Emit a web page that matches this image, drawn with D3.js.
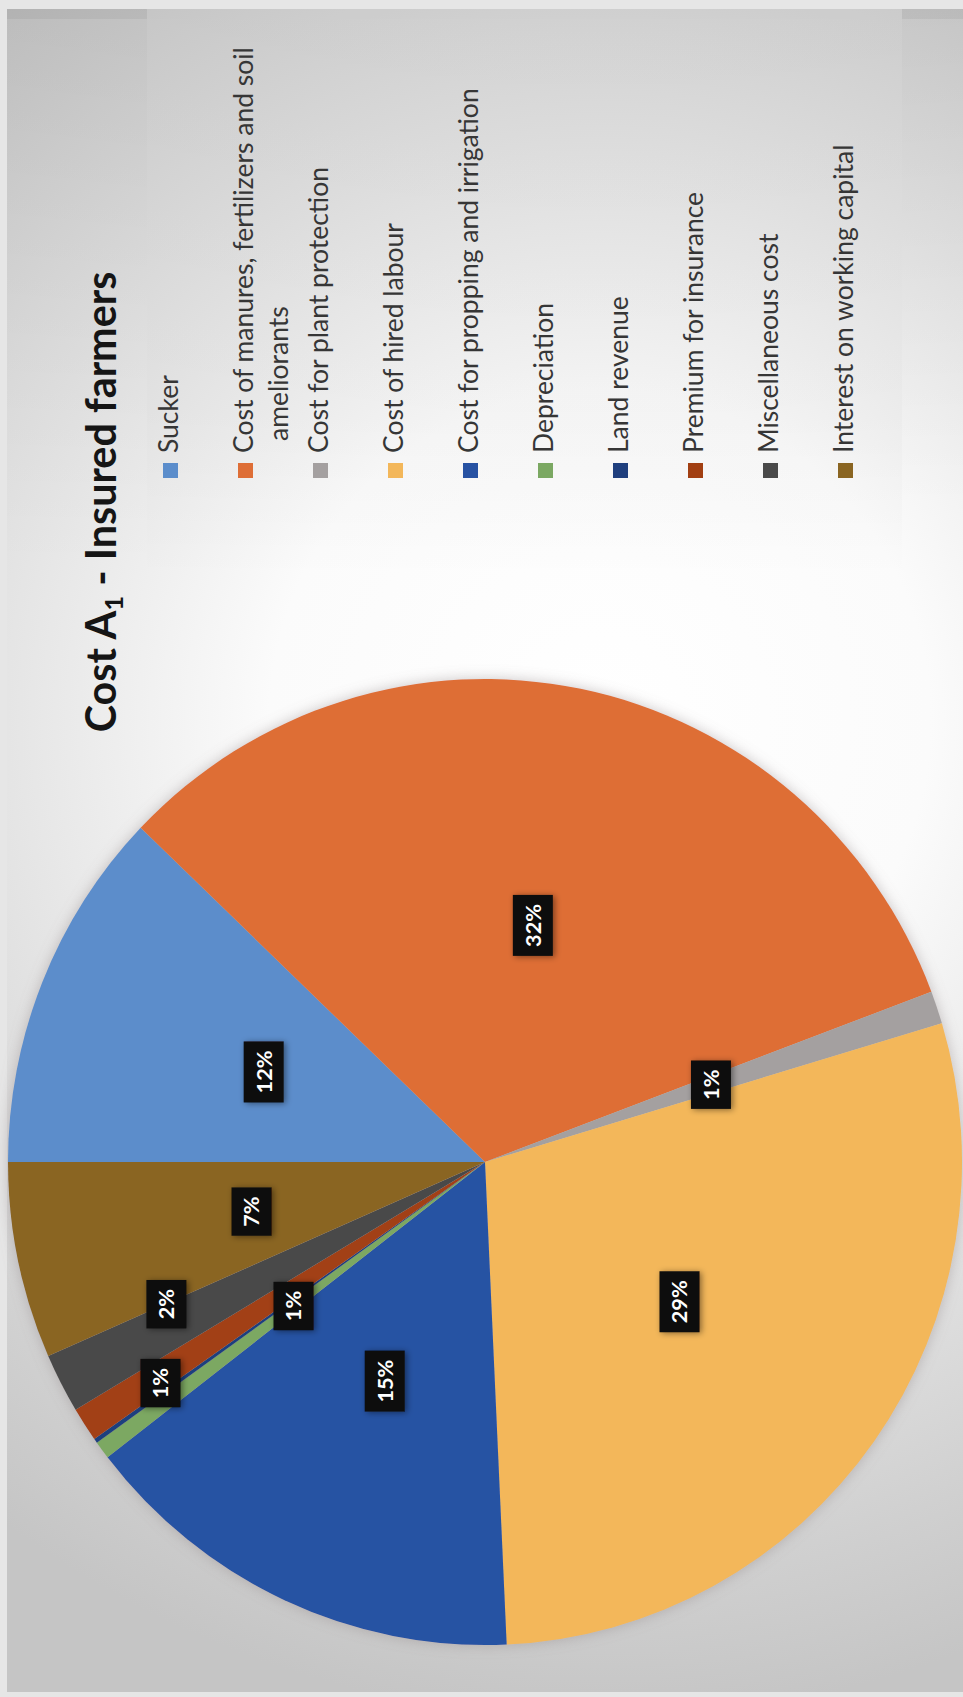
<!DOCTYPE html>
<html><head><meta charset="utf-8">
<script src="https://cdn.jsdelivr.net/npm/d3@7"></script>
<style>html,body{margin:0;padding:0;background:#d0d0d0;} svg{display:block}</style>
</head><body>
<svg id="chart" width="963" height="1697"></svg>
<script>
// ---- data ----
const categories = ["Sucker", "Cost of manures, fertilizers and soil ameliorants", "Cost for plant protection", "Cost of hired labour", "Cost for propping and irrigation", "Depreciation", "Land revenue", "Premium for insurance", "Miscellaneous cost", "Interest on working capital"];
const shares = [12.2, 32.2, 1.1, 29.0, 15.3, 0.6, 0.15, 1.15, 2.0, 6.6];
const colors = ["#5b8dcb", "#de6e36", "#a4a0a0", "#f3b75a", "#2752a3", "#7ba862", "#1f3f7e", "#a23f12", "#4a4a4a", "#8a6522"];
const legendWrapAt = [null, "Cost of manures, fertilizers and soil", null, null, null, null, null, null, null, null];
const titleParts = ["Cost A", "1", " - Insured farmers"];
// label placement (layout, fraction of radius / angular nudge in degrees)
const labelRadius = [0.5, 0.5, 0.5, 0.5, 0.5, 0.5, 0.5, 0.82, 0.73, 0.5];
const labelNudge = [0, 0, 0, 0, 0, 0, 0, -1, 3.5, 0];

const W = 963, H = 1697;
const svg = d3.select("#chart");
const defs = svg.append("defs");

// background
const rg = defs.append("radialGradient").attr("id", "bg").attr("gradientUnits", "userSpaceOnUse")
  .attr("cx", 600).attr("cy", 720).attr("r", 1000);
[[0, "#ffffff"], [0.33, "#fbfbfb"], [0.58, "#e6e6e6"], [0.85, "#d0d0d0"], [1, "#c5c5c5"]]
  .forEach(([o, c]) => rg.append("stop").attr("offset", o).attr("stop-color", c));
const lg = defs.append("linearGradient").attr("id", "shadeDown").attr("x1", 0).attr("y1", 0).attr("x2", 0).attr("y2", 1);
lg.append("stop").attr("offset", 0).attr("stop-color", "#000").attr("stop-opacity", 0.07);
lg.append("stop").attr("offset", 1).attr("stop-color", "#000").attr("stop-opacity", 0);
const lg3 = defs.append("linearGradient").attr("id", "legShade").attr("x1", 0).attr("y1", 0).attr("x2", 0).attr("y2", 1);
lg3.append("stop").attr("offset", 0).attr("stop-color", "#000").attr("stop-opacity", 0.05);
lg3.append("stop").attr("offset", 0.7).attr("stop-color", "#000").attr("stop-opacity", 0.03);
lg3.append("stop").attr("offset", 1).attr("stop-color", "#000").attr("stop-opacity", 0);

svg.append("rect").attr("width", W).attr("height", H).attr("fill", "#e6e6e6");
svg.append("rect").attr("x", 7).attr("y", 9).attr("width", W - 7).attr("height", H - 14).attr("fill", "url(#bg)");
svg.append("rect").attr("x", 7).attr("y", 9).attr("width", 140).attr("height", 560).attr("fill", "url(#shadeDown)");
svg.append("rect").attr("x", 902).attr("y", 9).attr("width", 61).attr("height", 500).attr("fill", "url(#shadeDown)");
svg.append("rect").attr("x", 147).attr("y", 19).attr("width", 755).attr("height", 560).attr("fill", "url(#legShade)");
svg.append("rect").attr("x", 7).attr("y", 9).attr("width", W - 7).attr("height", 10).attr("fill", "#000").attr("opacity", 0.05);

// filters
const f1 = defs.append("filter").attr("id", "pieShadow").attr("x", "-10%").attr("y", "-10%").attr("width", "120%").attr("height", "120%");
f1.append("feGaussianBlur").attr("in", "SourceAlpha").attr("stdDeviation", 7).attr("result", "b");
f1.append("feFlood").attr("flood-color", "#8a7f80").attr("flood-opacity", 0.45);
f1.append("feComposite").attr("in2", "b").attr("operator", "in").attr("result", "s");
const m1 = f1.append("feMerge"); m1.append("feMergeNode").attr("in", "s"); m1.append("feMergeNode").attr("in", "SourceGraphic");
const f2 = defs.append("filter").attr("id", "boxShadow").attr("x", "-30%").attr("y", "-30%").attr("width", "160%").attr("height", "160%");
f2.append("feGaussianBlur").attr("in", "SourceAlpha").attr("stdDeviation", 3).attr("result", "b");
f2.append("feOffset").attr("in", "b").attr("dx", 2).attr("dy", 1).attr("result", "o");
f2.append("feFlood").attr("flood-color", "#000").attr("flood-opacity", 0.45);
f2.append("feComposite").attr("in2", "o").attr("operator", "in").attr("result", "s");
const m2 = f2.append("feMerge"); m2.append("feMergeNode").attr("in", "s"); m2.append("feMergeNode").attr("in", "SourceGraphic");

const FONT = "Lato, 'Open Sans', sans-serif";

function measure(txt, size, weight) {
  const t = svg.append("text").attr("font-family", FONT).attr("font-size", size).attr("font-weight", weight).text(txt);
  const l = t.node().getComputedTextLength(); t.remove(); return l;
}

// ---- title ----
const titleLen = measure(titleParts.join(""), 40, "bold");
const titleSize = 40 * 470 / titleLen;
const title = svg.append("text")
  .attr("transform", "translate(116,502) rotate(-90)")
  .attr("text-anchor", "middle").attr("font-family", FONT).attr("font-weight", "bold")
  .attr("font-size", titleSize).attr("fill", "#151515");
title.append("tspan").text(titleParts[0]);
title.append("tspan").attr("font-size", titleSize * 0.62).attr("dy", titleSize * 0.18).text(titleParts[1]);
title.append("tspan").attr("dy", -titleSize * 0.18).text(titleParts[2]);

// ---- legend ----
const legLen = measure(legendWrapAt[1], 28, "normal");
const legSize = 28 * 406 / legLen;
const legend = svg.append("g");
const legX = d3.scalePoint().domain(categories).range([178, 178 + 75 * (categories.length - 1)]);
categories.forEach((c, i) => {
  const bx = legX(c);
  legend.append("rect").attr("x", bx - 15).attr("y", 463).attr("width", 15).attr("height", 15).attr("fill", colors[i]);
  const lines = legendWrapAt[i] ? [legendWrapAt[i], c.slice(legendWrapAt[i].length).trim()] : [c];
  const t = legend.append("text").attr("transform", `translate(${bx},453) rotate(-90)`)
    .attr("font-family", FONT).attr("font-size", legSize).attr("fill", "#363636");
  lines.forEach((ln, k) => t.append("tspan").attr("x", k ? 12 : 0).attr("dy", k ? 35 : 0).text(ln));
});

// ---- pie ----
const cx = 485, cy = 1162, R = 480, rx = 477, ry = 483;
const sx = rx / R, sy = ry / R;
const total = d3.sum(shares);
const pie = d3.pie().sort(null).value(d => d).startAngle(-Math.PI / 2).endAngle(3 * Math.PI / 2);
const arcs = pie(shares);
const arc = d3.arc().innerRadius(0).outerRadius(R);
const pg = svg.append("g").attr("transform", `translate(${cx},${cy}) scale(${sx},${sy})`).attr("filter", "url(#pieShadow)");
pg.selectAll("path").data(arcs).join("path").attr("d", arc).attr("fill", (d, i) => colors[i]);

// ---- data labels ----
const lblSize = 22 * 43 / measure("12%", 22, "bold");
const lg2 = svg.append("g");
arcs.forEach((a, i) => {
  const pct = Math.round(a.value / total * 100);
  if (pct < 1) return;
  const mid = (a.startAngle + a.endAngle) / 2 + labelNudge[i] * Math.PI / 180;
  const r = R * labelRadius[i];
  const x = cx + r * Math.sin(mid) * sx, y = cy - r * Math.cos(mid) * sy;
  const txt = pct + "%";
  const L = measure(txt, lblSize, "bold");
  const g = lg2.append("g").attr("transform", `translate(${x},${y})`);
  g.append("rect").attr("x", -20).attr("y", -(L + 18) / 2).attr("width", 40).attr("height", L + 18)
    .attr("fill", "#0e0c0c").attr("filter", "url(#boxShadow)");
  g.append("text").attr("transform", "rotate(-90)").attr("text-anchor", "middle").attr("dy", "0.36em")
    .attr("font-family", FONT).attr("font-weight", "bold").attr("font-size", lblSize).attr("fill", "#ffffff").text(txt);
});
</script>
</body></html>
